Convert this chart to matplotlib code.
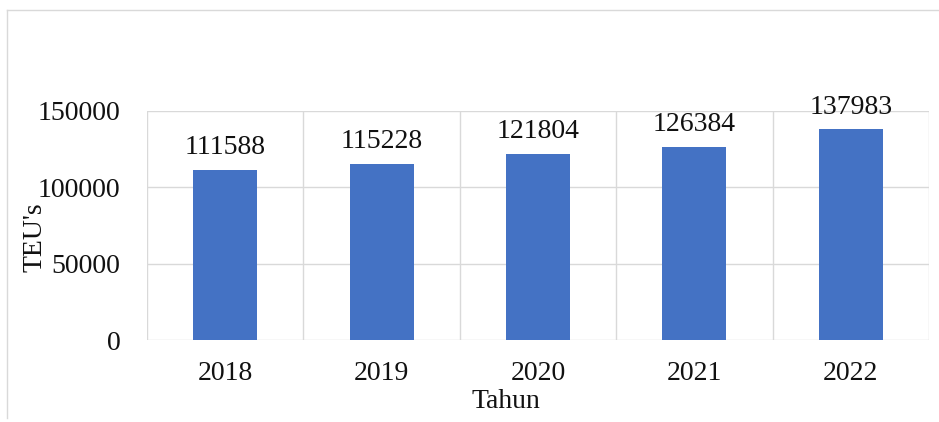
import matplotlib.pyplot as plt
from matplotlib.lines import Line2D

plt.rcParams["font.family"] = ["Liberation Serif", "DejaVu Serif"]

# data
tahun = ["2018", "2019", "2020", "2021", "2022"]
teus = [111588, 115228, 121804, 126384, 137983]
y_ticks = [0, 50000, 100000, 150000]

fs = 20

fig = plt.figure(figsize=(9.39, 4.22), dpi=100)
ax = fig.add_axes([147/939, (422-340)/422, (929-147)/939, (340-111)/422])

x = list(range(len(tahun)))
bars = ax.bar(x, teus, width=0.41, color="#4472C4", zorder=3)

for xi, v in zip(x, teus):
    ax.annotate(str(v), (xi, v), xytext=(0, 7), textcoords="offset points",
                ha="center", va="bottom", fontsize=fs, color="#111111")

ax.set_xlim(-0.5, len(tahun) - 0.5)
ax.set_ylim(0, 150000)
ax.set_yticks(y_ticks)
ax.set_yticklabels([str(t) for t in y_ticks])
ax.set_xticks(x)
ax.set_xticklabels(tahun)

# gridlines (horizontal + category boundaries)
for t in y_ticks:
    ax.axhline(t, color="#d9d9d9", lw=1, zorder=1)
for b in [i - 0.5 for i in range(len(tahun) + 1)]:
    ax.axvline(b, color="#d9d9d9", lw=1, zorder=1)

for s in ax.spines.values():
    s.set_visible(False)
ax.tick_params(axis="both", length=0, labelsize=fs, colors="#111111")
ax.tick_params(axis="y", pad=19)
ax.tick_params(axis="x", pad=15)

ax.set_ylabel("TEU's", fontsize=fs, color="#111111")
ax.yaxis.set_label_coords(-0.127, 0.45)
ax.set_xlabel("Tahun", fontsize=fs, color="#111111")
ax.xaxis.set_label_coords(0.459, -0.215)

# chart area border
fig.add_artist(Line2D([7/939, 1], [1 - 10/422, 1 - 10/422], color="#d9d9d9", lw=1))
fig.add_artist(Line2D([7/939, 7/939], [1 - 10/422, 1 - 418/422], color="#d9d9d9", lw=1))

plt.savefig("out.png", dpi=100)
plt.close()
